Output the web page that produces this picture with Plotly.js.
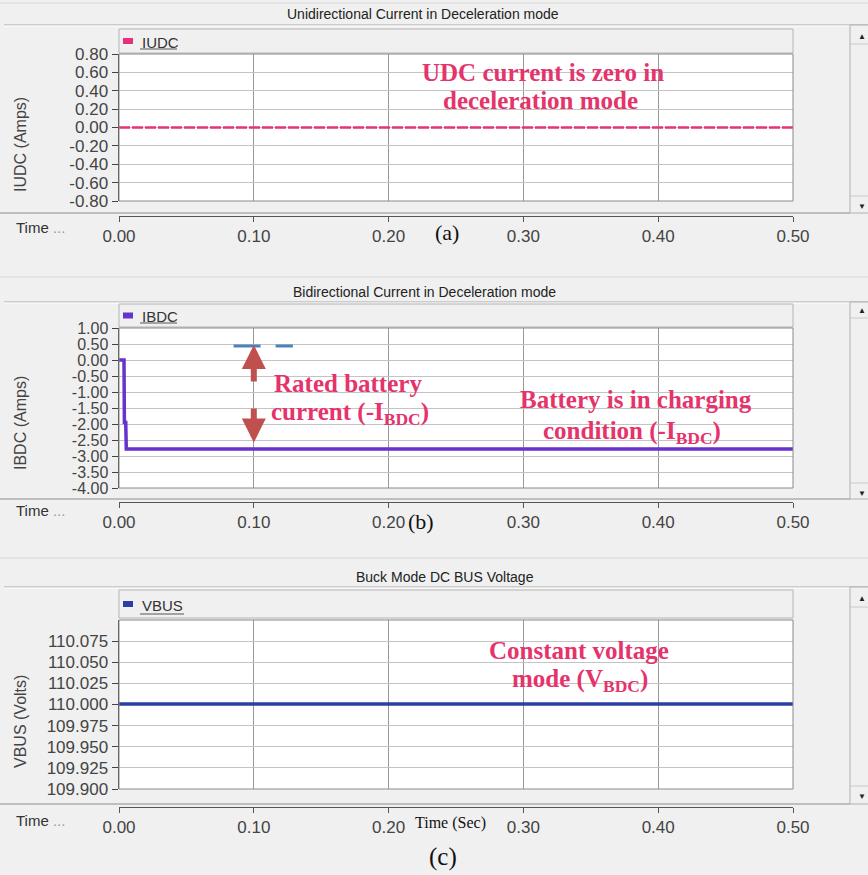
<!DOCTYPE html>
<html>
<head>
<meta charset="utf-8">
<script src="https://cdn.plot.ly/plotly-3.0.1.min.js"></script>
<style>html,body{margin:0;padding:0;background:#f0f0f0;}#chart{width:868px;height:875px;}</style>
</head>
<body>
<div id="chart"></div>
<script>
// ---------- data ----------
const timeTicks = [0, 0.1, 0.2, 0.3, 0.4, 0.5];
const timeTickText = ['0.00', '0.10', '0.20', '0.30', '0.40', '0.50'];

const tIUDC = [0, 0.5];
const vIUDC = [0, 0];
const iudcTicks = [0.8, 0.6, 0.4, 0.2, 0, -0.2, -0.4, -0.6, -0.8];
const iudcTickText = ['0.80', '0.60', '0.40', '0.20', '0.00', '-0.20', '-0.40', '-0.60', '-0.80'];

const tIBDC = [0, 0.0037, 0.0040, 0.0050, 0.0054, 0.5];
const vIBDC = [0, 0, -1.95, -1.95, -2.78, -2.78];
const tRated = [0.085, 0.129];
const vRated = [0.44, 0.44];
const ibdcTicks = [1, 0.5, 0, -0.5, -1, -1.5, -2, -2.5, -3, -3.5, -4];
const ibdcTickText = ['1.00', '0.50', '0.00', '-0.50', '-1.00', '-1.50', '-2.00', '-2.50', '-3.00', '-3.50', '-4.00'];

const tVBUS = [0, 0.5];
const vVBUS = [110.0005, 110.0005];
const vbusTicks = [110.075, 110.05, 110.025, 110.0, 109.975, 109.95, 109.925, 109.9];
const vbusTickText = ['110.075', '110.050', '110.025', '110.000', '109.975', '109.950', '109.925', '109.900'];

const panelTitles = ['Unidirectional Current in Deceleration mode', 'Bidirectional Current in Deceleration mode', 'Buck Mode DC BUS Voltage'];
const legendNames = ['IUDC', 'IBDC', 'VBUS'];
const yTitles = ['IUDC (Amps)', 'IBDC (Amps)', 'VBUS (Volts)'];
const panelLabels = ['(a)', '(b)', '(c)'];

// ---------- geometry helpers ----------
const W = 868, H = 875;
const X = p => p / W;
const Y = p => 1 - p / H;

const colIUDC = '#e8307a', colIBDC = '#6633cc', colVBUS = '#2b3fa5', colRated = '#4f81bd';
const pink = '#e5336b';

// panel geometry (pixels)
const P = [
  {top: 3, titleY: 14, sep: 25, legT: 29, legB: 53, plotT: 54, plotB: 201, bot: 213, axisY: 216, timeY: 227, upY: 35, dnY: 205, btn1: 44, btn2: 196, titleX: 423, ytY: 145, labX: 447, labY: 233, tf: 17},
  {top: 277, titleY: 292, sep: 302, legT: 304, legB: 327, plotT: 328, plotB: 488, bot: 499, axisY: 502, timeY: 510, upY: 309, dnY: 492, btn1: 318, btn2: 483, titleX: 424, ytY: 423, labX: 421, labY: 521, tf: 16},
  {top: 558, titleY: 577, sep: 587, legT: 590, legB: 618, plotT: 620, plotB: 789, bot: 804, axisY: 807, timeY: 820, upY: 597, dnY: 795, btn1: 607, btn2: 786, titleX: 445, ytY: 722, labX: 443, labY: 857, tf: 17}
];
const PL = 119, PR = 793, SB = 850;

const xTickFont = {family: 'Liberation Sans, Arial, sans-serif', size: 17, color: '#444'};

function xAx(i) {
  return {
    domain: [X(PL), X(PR)], range: [0, 0.5], anchor: 'free', position: Y(P[i].axisY),
    tickvals: timeTicks, ticktext: timeTickText, tickfont: xTickFont,
    ticks: 'outside', ticklen: 5, tickcolor: '#555', showline: true, linecolor: '#555', linewidth: 1,
    showgrid: true, gridcolor: '#999', gridwidth: 1, zeroline: false, fixedrange: true
  };
}
function yAx(i, range, vals, txt) {
  return {
    domain: [Y(P[i].plotB), Y(P[i].plotT)], range: range, anchor: 'x' + (i ? i + 1 : ''),
    tickvals: vals, ticktext: txt, tickfont: {family: 'Liberation Sans, Arial, sans-serif', size: P[i].tf, color: '#444'},
    ticks: 'outside', ticklen: 6, tickcolor: '#444', showline: true, linecolor: '#444', linewidth: 1.5,
    showgrid: true, gridcolor: '#c4c4c4', gridwidth: 1, zeroline: false, fixedrange: true
  };
}

const traces = [
  {x: tIUDC, y: vIUDC, xaxis: 'x', yaxis: 'y', mode: 'lines', name: 'IUDC', line: {color: colIUDC, width: 2.5, dash: '11px,2px'}},
  {x: tIBDC, y: vIBDC, xaxis: 'x2', yaxis: 'y2', mode: 'lines', name: 'IBDC', line: {color: colIBDC, width: 3.5}},
  {x: tRated, y: vRated, xaxis: 'x2', yaxis: 'y2', mode: 'lines', name: 'Rated', line: {color: colRated, width: 3, dash: '27px,15px'}},
  {x: tVBUS, y: vVBUS, xaxis: 'x3', yaxis: 'y3', mode: 'lines', name: 'VBUS', line: {color: colVBUS, width: 3.5}}
];

const shapes = [];
const annotations = [];
const legColors = [colIUDC, colIBDC, colVBUS];

P.forEach((p, i) => {
  const L = (x0, y0, x1, y1, c, w) => shapes.push({type: 'line', xref: 'paper', yref: 'paper', x0: X(x0), y0: Y(y0), x1: X(x1), y1: Y(y1), line: {color: c, width: w || 1}, layer: 'below'});
  // panel outline lines
  L(0, p.top, W, p.top, '#d6d6d6');
  L(4, p.sep, W, p.sep, '#a8a8a8');
  L(4, p.sep + 1, W, p.sep + 1, '#ffffff');
  L(0, p.bot, SB, p.bot, '#8c8c8c');
  // legend box
  shapes.push({type: 'rect', xref: 'paper', yref: 'paper', x0: X(PL), x1: X(PR), y0: Y(p.legB), y1: Y(p.legT), fillcolor: '#f0f0f0', line: {color: '#b4b4b4', width: 1}, layer: 'below'});
  // legend marker + underline
  shapes.push({type: 'rect', xref: 'paper', yref: 'paper', x0: X(123), x1: X(133), y0: Y((p.legT + p.legB) / 2 + 3), y1: Y((p.legT + p.legB) / 2 - 3), fillcolor: legColors[i], line: {width: 0}});
  L(140, p.legB - 4, 140 + (i === 2 ? 44 : 37), p.legB - 4, '#555');
  // plot frame
  const xr = 'x' + (i ? i + 1 : '') + ' domain', yr = 'y' + (i ? i + 1 : '') + ' domain';
  shapes.push({type: 'rect', xref: xr, yref: yr, x0: 0, x1: 1, y0: 0, y1: 1, line: {color: '#8a8a8a', width: 1}, layer: 'above'});
  // scrollbar
  shapes.push({type: 'rect', xref: 'paper', yref: 'paper', x0: X(SB), x1: X(W + 2), y0: Y(p.bot), y1: Y(p.sep), fillcolor: '#f0f0f0', line: {color: '#b0b0b0', width: 1}, layer: 'below'});
  L(SB, p.btn1, W, p.btn1, '#c8c8c8');
  L(SB, p.btn2, W, p.btn2, '#c8c8c8');

  const A = (o) => annotations.push(Object.assign({xref: 'paper', yref: 'paper', showarrow: false}, o));
  A({x: X(p.titleX), y: Y(p.titleY), text: panelTitles[i], font: {family: 'Liberation Sans, Arial, sans-serif', size: 14, color: '#222'}, xanchor: 'center', yanchor: 'middle'});
  A({x: X(140), y: Y((p.legT + p.legB) / 2 + 1), text: legendNames[i], font: {family: 'Liberation Sans, Arial, sans-serif', size: 15, color: '#333'}, xanchor: 'left', yanchor: 'middle'});
  A({x: X(20), y: Y(p.ytY), text: yTitles[i], textangle: -90, font: {family: 'Liberation Sans, Arial, sans-serif', size: 16, color: '#444'}, xanchor: 'center', yanchor: 'middle'});
  A({x: X(14), y: Y(p.timeY), text: 'Time <span style="color:#999">...</span>', font: {family: 'Liberation Sans, Arial, sans-serif', size: 15, color: '#333'}, xanchor: 'left', yanchor: 'middle'});
  A({x: X(862), y: Y(p.upY), text: '▲', font: {size: 8, color: '#222'}, xanchor: 'center', yanchor: 'middle'});
  A({x: X(862), y: Y(p.dnY), text: '▼', font: {size: 8, color: '#222'}, xanchor: 'center', yanchor: 'middle'});
  A({x: X(p.labX), y: Y(p.labY), text: panelLabels[i], font: {family: 'Liberation Serif, Times New Roman, serif', size: i === 2 ? 25 : 22, color: '#111'}, xanchor: 'center', yanchor: 'middle'});
});

annotations.push({xref: 'paper', yref: 'paper', showarrow: false, x: X(450), y: Y(823), text: 'Time (Sec)', font: {family: 'Liberation Serif, Times New Roman, serif', size: 16, color: '#111'}, xanchor: 'center', yanchor: 'middle'});

// pink explanatory notes
const pinkFont = {family: 'Liberation Serif, Times New Roman, serif', size: 25, color: pink, weight: 'bold'};
const note = (x, y, t) => annotations.push({xref: 'paper', yref: 'paper', showarrow: false, x: X(x), y: Y(y), text: '<b>' + t + '</b>', font: pinkFont, xanchor: 'center', yanchor: 'middle'});
note(543, 72, 'UDC current is zero in');
note(540, 100, 'deceleration mode');
note(348, 383, 'Rated battery');
note(350, 414, 'current (-I<sub>BDC</sub>)');
note(636, 400, 'Battery is in charging');
note(632, 432, 'condition (-I<sub>BDC</sub>)');
note(579, 650, 'Constant voltage');
note(580, 680, 'mode (V<sub>BDC</sub>)');

// red double arrows (rated current)
const arrowCol = '#c0504d';
annotations.push({xref: 'x2', yref: 'y2', axref: 'x2', ayref: 'y2', x: 0.1, y: 0.47, ax: 0.1, ay: -0.72, text: '', showarrow: true, arrowhead: 2, arrowsize: 0.8, arrowwidth: 6, arrowcolor: arrowCol, standoff: 0});
annotations.push({xref: 'x2', yref: 'y2', axref: 'x2', ayref: 'y2', x: 0.1, y: -2.58, ax: 0.1, ay: -1.47, text: '', showarrow: true, arrowhead: 2, arrowsize: 0.8, arrowwidth: 6, arrowcolor: arrowCol, standoff: 0});

const layout = {
  width: W, height: H, margin: {l: 0, r: 0, t: 0, b: 0},
  paper_bgcolor: '#f0f0f0', plot_bgcolor: '#ffffff', showlegend: false,
  xaxis: xAx(0), yaxis: yAx(0, [-0.8, 0.8], iudcTicks, iudcTickText),
  xaxis2: xAx(1), yaxis2: yAx(1, [-4, 1], ibdcTicks, ibdcTickText),
  xaxis3: xAx(2), yaxis3: yAx(2, [109.9, 110.1], vbusTicks, vbusTickText),
  shapes: shapes, annotations: annotations
};

Plotly.newPlot('chart', traces, layout, {displayModeBar: false, staticPlot: true});
</script>
</body>
</html>
